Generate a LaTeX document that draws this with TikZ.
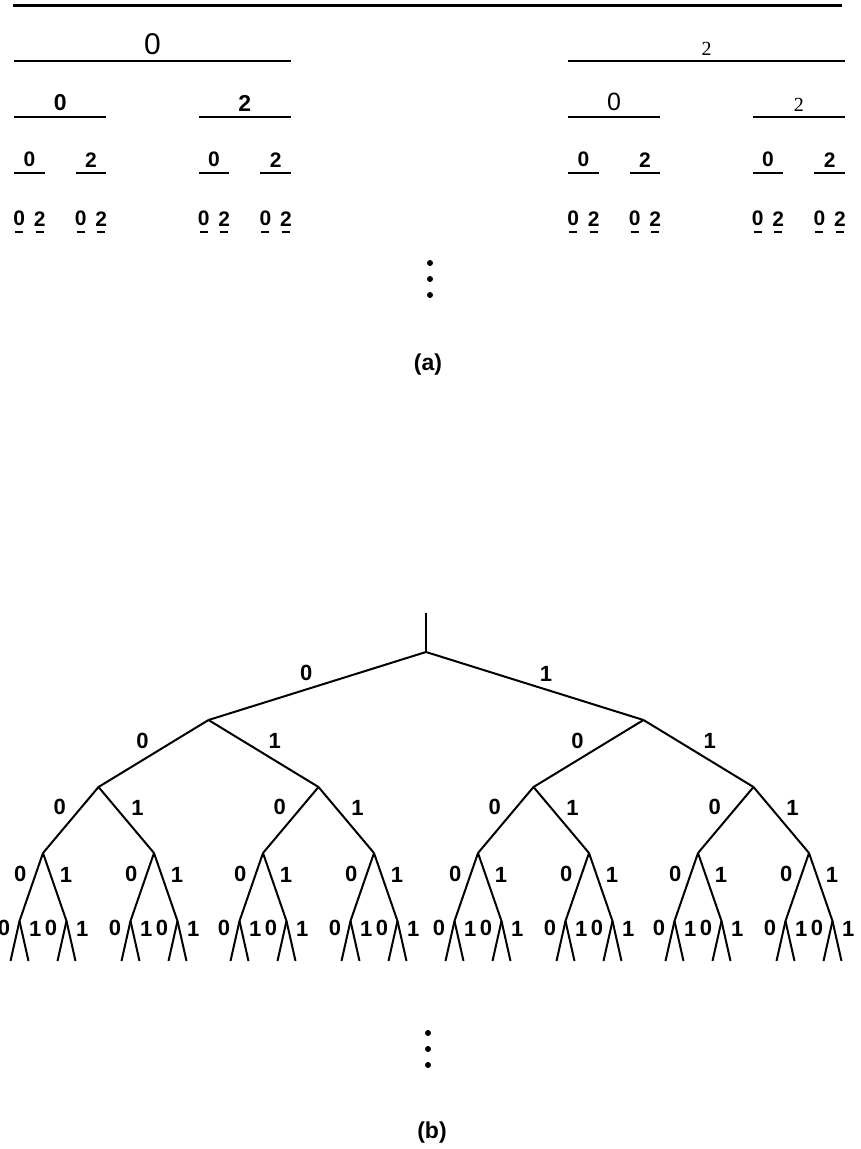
\documentclass[tikz,border=0pt]{standalone}
\usepackage{fontspec}
\setmainfont{Liberation Serif}
\setsansfont{Liberation Sans}

\tikzset{
    seg/.style={line width=2pt},
    cantorlab/.style={above=5pt, inner sep=0pt},
    lvone0/.style={cantorlab, font=\sffamily\fontsize{30}{30}\selectfont},
    lvone2/.style={cantorlab, font=\rmfamily\fontsize{20}{20}\selectfont},
    lvtwo00/.style={cantorlab, font=\sffamily\bfseries\fontsize{23}{23}\selectfont},
    lvtwo02/.style={lvtwo00},
    lvtwo20/.style={cantorlab, font=\sffamily\fontsize{25}{25}\selectfont},
    lvtwo22/.style={cantorlab, font=\rmfamily\fontsize{20}{20}\selectfont},
    lvlow/.style={cantorlab, font=\sffamily\bfseries\fontsize{21}{21}\selectfont},
    treefont/.style={font=\sffamily\bfseries\fontsize{22}{22}\selectfont, inner sep=4pt},
    lab0/.style={auto, swap, treefont},
    lab1/.style={auto, treefont},
    dotnode/.style={circle, fill, inner sep=0pt, minimum size=6pt},
    caption/.style={font=\sffamily\bfseries\fontsize{23}{23}\selectfont}
}

\begin{document}
\begin{tikzpicture}[x=1pt, y=1pt,
    edge from parent/.style={draw, line width=2pt},
    level 1/.style={level distance=68pt, sibling distance=435pt},
    level 2/.style={level distance=67pt, sibling distance=220pt},
    level 3/.style={level distance=66pt, sibling distance=111pt},
    level 4/.style={level distance=68pt, sibling distance=47pt, xshift=4pt},
    level 5/.style={level distance=40pt, sibling distance=18pt, xshift=4pt}
    ]
    \useasboundingbox (0,0) rectangle (860,-1149);

    % (a) middle thirds
    \draw[line width=3pt] (13,-5) -- (842,-5);
    \foreach \a in {0,2}{
        \draw[seg] (14+\a*277,-61) -- ++(277,0) node[midway, lvone\a] (c\a) {\a};
        \foreach \b in {0,2}{
            \draw[seg] (14+\a*277+\b*92.33,-117) -- ++(92.33,0)
                node[midway, lvtwo\a\b] (c\a\b) {\b};
            \foreach \c in {0,2}{
                \draw[seg] (14+\a*277+\b*92.33+\c*30.78,-173) -- ++(30.78,0)
                    node[midway, lvlow] (c\a\b\c) {\c};
                \foreach \d in {0,2}{
                    \draw[seg] (15+\a*277+\b*92.33+\c*30.78+\d*10.26,-232) -- ++(8.26,0)
                        node[midway, lvlow] (c\a\b\c\d) {\d};
                }
            }
        }
    }
    \node[dotnode] (adot1) at (430,-263) {};
    \node[dotnode] (adot2) at (430,-279) {};
    \node[dotnode] (adot3) at (430,-295) {};
    \node[caption] (capa) at (428,-365) {(a)};

    % (b) binary tree
    \coordinate (stem) at (426,-613);
    \node[coordinate] (root) at (426,-652) {}
        child foreach \a in {0,1} {coordinate
            child foreach \b in {0,1} {coordinate
                child foreach \c in {0,1} {coordinate
                    child foreach \d in {0,1} {coordinate
                        child foreach \e in {0,1} {coordinate
                            edge from parent node[lab\e] {\e}}
                        edge from parent node[lab\d] {\d}}
                    edge from parent node[lab\c] {\c}}
                edge from parent node[lab\b] {\b}}
            edge from parent node[lab\a] {\a}};
    \draw[line width=2pt] (stem) -- (root);

    \node[dotnode] (bdot1) at (428,-1033) {};
    \node[dotnode] (bdot2) at (428,-1049) {};
    \node[dotnode] (bdot3) at (428,-1065) {};
    \node[caption] (capb) at (432,-1133) {(b)};
\end{tikzpicture}
\end{document}
